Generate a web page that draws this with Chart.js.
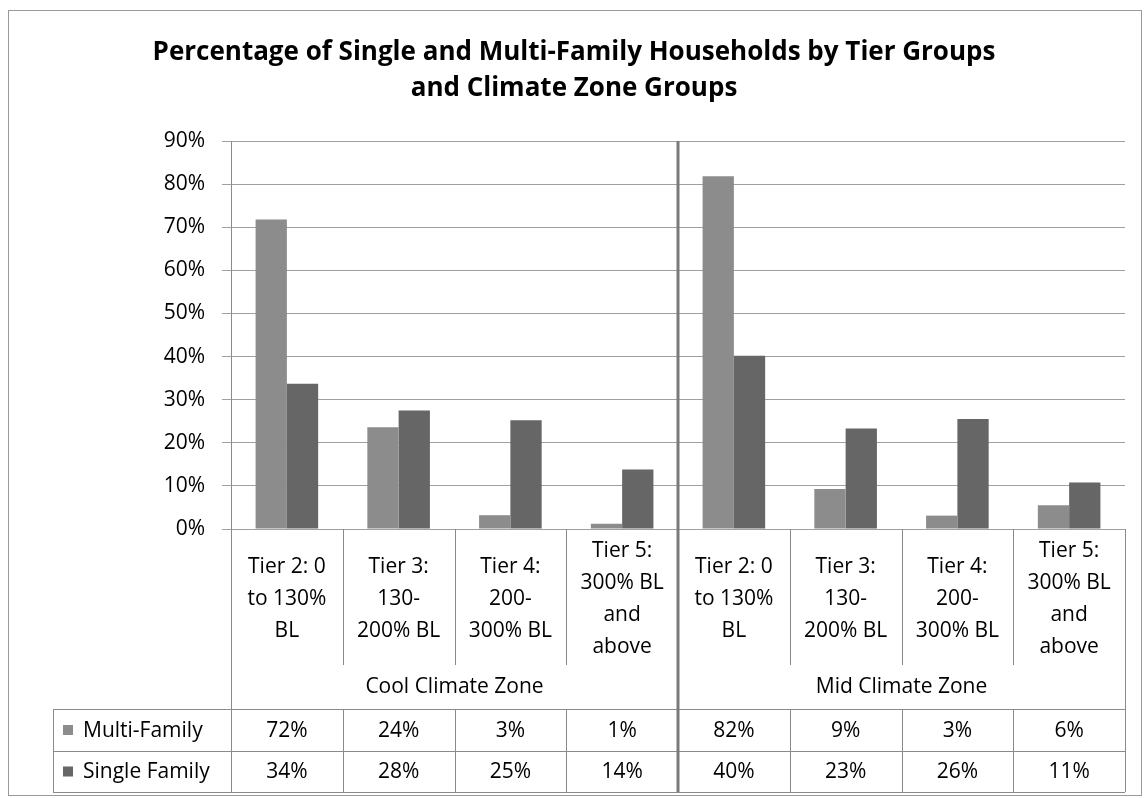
<!DOCTYPE html>
<html>
<head>
<meta charset="utf-8">
<title>Single and Multi-Family Households by Tier and Climate Zone</title>
<script src="https://cdn.jsdelivr.net/npm/chart.js@4.4.1/dist/chart.umd.min.js"></script>
<style>
  body { margin: 0; background: #fff; }
  #wrap { width: 1145px; height: 798px; }
</style>
</head>
<body>
<div id="wrap"><canvas id="chart" width="1145" height="798"></canvas></div>
<script>
// data
var tierLabels = [
  ['Tier 2: 0', 'to 130%', 'BL'],
  ['Tier 3:', '130-', '200% BL'],
  ['Tier 4:', '200-', '300% BL'],
  ['Tier 5:', '300% BL', 'and', 'above'],
  ['Tier 2: 0', 'to 130%', 'BL'],
  ['Tier 3:', '130-', '200% BL'],
  ['Tier 4:', '200-', '300% BL'],
  ['Tier 5:', '300% BL', 'and', 'above']
];
var zoneLabels = ['Cool Climate Zone', 'Mid Climate Zone'];
var multiFamily = [71.8, 23.6, 3.2, 1.2, 81.8, 9.3, 3.1, 5.5];
var singleFamily = [33.7, 27.5, 25.2, 13.8, 40.2, 23.3, 25.5, 10.8];
var yTicks = [0, 10, 20, 30, 40, 50, 60, 70, 80, 90];

var FONT = '"Open Sans", "Noto Sans", sans-serif';
var multiColor = '#8c8c8c';
var singleColor = '#666666';
var lineColor = '#8a8a8a';

// title, table under the plot, zone separator
var tablePlugin = {
  id: 'tablePlugin',
  afterDraw: function(chart) {
    var ctx = chart.ctx;
    var xs = chart.scales.x;
    var area = chart.chartArea;
    var n = tierLabels.length;
    var colW = (area.right - area.left) / n;
    var top = area.bottom;
    var headBottom = 665;
    var row1 = 709, row2 = 751, row3 = 792;
    var legLeft = 53;

    ctx.save();
    // outer frame
    ctx.strokeStyle = '#9a9a9a';
    ctx.lineWidth = 1;
    ctx.strokeRect(8.5, 10.5, 1133, 785);

    // title
    ctx.fillStyle = '#000';
    ctx.textAlign = 'center';
    ctx.textBaseline = 'middle';
    ctx.font = 'bold 26px ' + FONT;
    ctx.fillText('Percentage of Single and Multi-Family Households by Tier Groups', 574, 53);
    ctx.fillText('and Climate Zone Groups', 574, 89);

    ctx.strokeStyle = lineColor;
    ctx.lineWidth = 1;
    // inner column lines in the header and value rows
    for (var i = 1; i < n; i++) {
      if (i === n / 2) continue;
      var bx = Math.round(area.left + i * colW) + 0.5;
      ctx.beginPath();
      ctx.moveTo(bx, top);
      ctx.lineTo(bx, headBottom);
      ctx.stroke();
      ctx.beginPath();
      ctx.moveTo(bx, row1);
      ctx.lineTo(bx, row3);
      ctx.stroke();
    }
    // left and right edges of the table
    [area.left, area.right].forEach(function(x) {
      ctx.beginPath();
      ctx.moveTo(Math.round(x) + 0.5, top);
      ctx.lineTo(Math.round(x) + 0.5, row3);
      ctx.stroke();
    });
    // legend column edge
    ctx.beginPath();
    ctx.moveTo(legLeft + 0.5, row1);
    ctx.lineTo(legLeft + 0.5, row3);
    ctx.stroke();
    // row lines
    [row1, row2, row3].forEach(function(y) {
      ctx.beginPath();
      ctx.moveTo(legLeft, y + 0.5);
      ctx.lineTo(area.right, y + 0.5);
      ctx.stroke();
    });

    // zone separator
    var sepX = area.left + (n / 2) * colW;
    ctx.strokeStyle = '#7a7a7a';
    ctx.lineWidth = 3;
    ctx.beginPath();
    ctx.moveTo(sepX, area.top);
    ctx.lineTo(sepX, row3);
    ctx.stroke();

    // category labels and values
    ctx.fillStyle = '#000';
    ctx.font = '21px ' + FONT;
    var lh = 32;
    var midY = (top + headBottom) / 2 + 2;
    for (var c = 0; c < n; c++) {
      var cx = xs.getPixelForValue(c);
      var lines = tierLabels[c];
      var y0 = midY - (lines.length - 1) * lh / 2;
      lines.forEach(function(t, k) {
        ctx.fillText(t, cx, y0 + k * lh);
      });
      ctx.fillText(Math.round(multiFamily[c]) + '%', cx, (row1 + row2) / 2 + 1);
      ctx.fillText(Math.round(singleFamily[c]) + '%', cx, (row2 + row3) / 2 + 1);
    }
    // zone labels
    zoneLabels.forEach(function(z, k) {
      var zx = area.left + (k * n / 2 + n / 4) * colW;
      ctx.fillText(z, zx, 687);
    });

    // legend keys in the table
    ctx.textAlign = 'left';
    [['Multi-Family', multiColor, (row1 + row2) / 2], ['Single Family', singleColor, (row2 + row3) / 2]].forEach(function(r) {
      ctx.fillStyle = r[1];
      ctx.fillRect(63, r[2] - 5, 10, 10);
      ctx.fillStyle = '#000';
      ctx.fillText(r[0], 83, r[2] + 1);
    });
    ctx.restore();
  }
};

new Chart(document.getElementById('chart'), {
  type: 'bar',
  data: {
    labels: tierLabels.map(function(l) { return l.join(' '); }),
    datasets: [
      { label: 'Multi-Family', data: multiFamily, backgroundColor: multiColor },
      { label: 'Single Family', data: singleFamily, backgroundColor: singleColor }
    ]
  },
  options: {
    responsive: false,
    animation: false,
    layout: { padding: { left: 0, right: 20, top: 141, bottom: 269 } },
    plugins: {
      legend: { display: false },
      title: { display: false },
      tooltip: { enabled: false }
    },
    datasets: { bar: { categoryPercentage: 0.56, barPercentage: 1 } },
    scales: {
      x: {
        display: false,
        grid: { display: false }
      },
      y: {
        min: 0,
        max: 90,
        afterFit: function(scale) { scale.width = 231; },
        afterBuildTicks: function(scale) {
          scale.ticks = yTicks.map(function(v) { return { value: v }; });
        },
        ticks: {
          color: '#000',
          padding: 17,
          font: { family: FONT, size: 21 },
          callback: function(v) { return v + '%'; }
        },
        grid: { color: '#a0a0a0', tickLength: 9, tickColor: '#a0a0a0' },
        border: { color: lineColor }
      }
    }
  },
  plugins: [tablePlugin]
});
</script>
</body>
</html>
